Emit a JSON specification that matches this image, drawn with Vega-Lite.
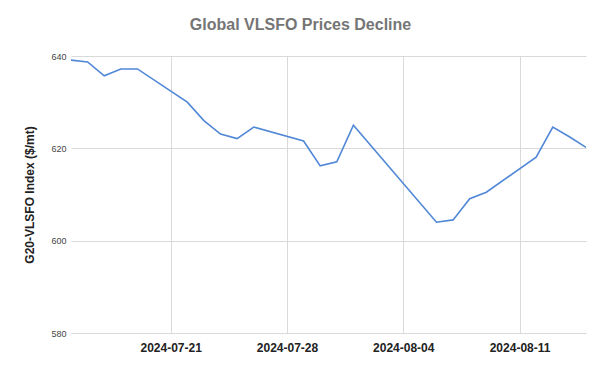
{
  "$schema": "https://vega.github.io/schema/vega-lite/v6.json",
  "width": 515,
  "height": 277,
  "autosize": {"type": "none"},
  "padding": {"left": 71, "top": 56, "right": 19, "bottom": 40},
  "background": "white",
  "config": {
    "view": {"stroke": null},
    "font": "Liberation Sans",
    "axis": {"domain": false, "ticks": false, "gridColor": "#d9d9d9", "gridWidth": 1}
  },
  "title": {
    "text": "Global VLSFO Prices Decline",
    "fontSize": 16,
    "fontWeight": "bold",
    "color": "#757575",
    "font": "Liberation Sans",
    "anchor": "middle",
    "baseline": "alphabetic",
    "offset": 6,
    "dx": -28
  },
  "data": {
    "values": [
      {"date": "2024-07-15", "price": 639.1},
      {"date": "2024-07-16", "price": 638.7},
      {"date": "2024-07-17", "price": 635.7},
      {"date": "2024-07-18", "price": 637.2},
      {"date": "2024-07-19", "price": 637.2},
      {"date": "2024-07-22", "price": 630.0},
      {"date": "2024-07-23", "price": 626.0},
      {"date": "2024-07-24", "price": 623.1},
      {"date": "2024-07-25", "price": 622.1},
      {"date": "2024-07-26", "price": 624.6},
      {"date": "2024-07-29", "price": 621.6},
      {"date": "2024-07-30", "price": 616.2},
      {"date": "2024-07-31", "price": 617.1},
      {"date": "2024-08-01", "price": 625.0},
      {"date": "2024-08-06", "price": 604.0},
      {"date": "2024-08-07", "price": 604.5},
      {"date": "2024-08-08", "price": 609.1},
      {"date": "2024-08-09", "price": 610.5},
      {"date": "2024-08-12", "price": 618.1},
      {"date": "2024-08-13", "price": 624.6},
      {"date": "2024-08-14", "price": 622.5},
      {"date": "2024-08-15", "price": 620.2}
    ]
  },
  "mark": {"type": "line", "color": "#5087d6", "strokeWidth": 1.6, "clip": true},
  "encoding": {
    "x": {
      "field": "date",
      "type": "temporal",
      "scale": {
        "type": "utc",
        "domain": [
          {"year": 2024, "month": 7, "date": 15, "utc": true},
          {"year": 2024, "month": 8, "date": 15, "utc": true}
        ]
      },
      "axis": {
        "title": null,
        "format": "%Y-%m-%d",
        "values": [
          {"year": 2024, "month": 7, "date": 21, "utc": true},
          {"year": 2024, "month": 7, "date": 28, "utc": true},
          {"year": 2024, "month": 8, "date": 4, "utc": true},
          {"year": 2024, "month": 8, "date": 11, "utc": true}
        ],
        "labelFontSize": 12,
        "labelFontWeight": "bold",
        "labelColor": "#222222",
        "labelPadding": 9
      }
    },
    "y": {
      "field": "price",
      "type": "quantitative",
      "scale": {"domain": [580, 640], "nice": false, "zero": false},
      "axis": {
        "title": "G20-VLSFO Index ($/mt)",
        "values": [580, 600, 620, 640],
        "labelFontSize": 9,
        "labelColor": "#444444",
        "labelPadding": 5,
        "titleFontSize": 12,
        "titleFontWeight": "bold",
        "titleColor": "#222222",
        "titlePadding": 14
      }
    }
  }
}
